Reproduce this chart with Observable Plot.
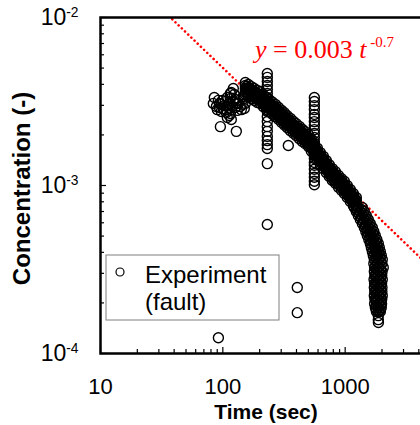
<!DOCTYPE html>
<html><head><meta charset="utf-8">
<script src="https://cdn.jsdelivr.net/npm/d3@7"></script>
<script src="https://cdn.jsdelivr.net/npm/@observablehq/plot@0.6"></script>
<style>
html,body{margin:0;padding:0;overflow:hidden;background:#fff;width:420px;height:425px}
#chart{position:relative;width:420px;height:425px;overflow:hidden}
#chart svg{max-width:none !important;width:470px !important;height:425px !important;display:block}
</style></head><body><div id="chart"></div>
<script>
// ---- data ----
const earlyTime = [83.6, 85.2, 88.5, 90.2, 91.9, 93.7, 93.7, 95.5, 97.2, 97.2, 99.0, 101, 102.8, 104.8, 106.8, 106.8, 108.8, 108.8, 110.9, 113, 113, 113, 115.1, 115.1, 115.1, 117.3, 117.3, 119.6, 121.8, 121.8, 124.2, 126.5, 126.5, 128.9, 128.9, 131.3, 133.9, 136.5, 139, 141.6, 144.3, 147, 147, 149.8, 152.7];
const earlyConc = [3.08e-3, 3.34e-3, 2.95e-3, 2.83e-3, 3.21e-3, 3.08e-3, 2.91e-3, 2.24e-3, 3.04e-3, 2.76e-3, 3.21e-3, 2.87e-3, 2.99e-3, 3.16e-3, 2.72e-3, 2.83e-3, 2.54e-3, 3.34e-3, 3.04e-3, 2.61e-3, 2.87e-3, 3.08e-3, 3.29e-3, 3.53e-3, 2.68e-3, 3.58e-3, 2.47e-3, 2.95e-3, 3.78e-3, 3.16e-3, 3.48e-3, 3.25e-3, 2.91e-3, 3.08e-3, 2.10e-3, 2.80e-3, 3.08e-3, 3.21e-3, 2.95e-3, 2.83e-3, 3.04e-3, 3.39e-3, 3.29e-3, 2.87e-3, 3.08e-3];

const bandTime = [152.7, 161.6, 171.0, 180.9, 191.4, 202.5, 214.3, 226.7, 239.9, 253.8, 268.6, 284.2, 300.7, 318.2, 336.6, 356.2, 376.9, 398.8, 421.9, 446.4, 472.4, 499.8, 528.8, 559.6, 592.1, 626.5, 662.9, 701.4, 742.2, 785.3, 830.9, 879.2, 930.3, 984.3, 1041, 1102, 1166, 1234];
const bandHigh = [4.10e-3, 3.99e-3, 3.88e-3, 3.78e-3, 3.68e-3, 3.63e-3, 3.46e-3, 3.35e-3, 3.24e-3, 3.14e-3, 3.04e-3, 2.92e-3, 2.81e-3, 2.71e-3, 2.60e-3, 2.51e-3, 2.41e-3, 2.33e-3, 2.25e-3, 2.16e-3, 2.09e-3, 2.01e-3, 1.89e-3, 1.78e-3, 1.67e-3, 1.57e-3, 1.49e-3, 1.41e-3, 1.33e-3, 1.26e-3, 1.21e-3, 1.15e-3, 1.10e-3, 1.06e-3, 1.00e-3, 9.47e-4, 8.96e-4, 8.48e-4];
const bandUpper = [3.94e-3, 3.83e-3, 3.73e-3, 3.63e-3, 3.53e-3, 3.48e-3, 3.32e-3, 3.22e-3, 3.12e-3, 3.01e-3, 2.92e-3, 2.80e-3, 2.70e-3, 2.59e-3, 2.50e-3, 2.41e-3, 2.31e-3, 2.24e-3, 2.16e-3, 2.07e-3, 2.00e-3, 1.93e-3, 1.81e-3, 1.71e-3, 1.60e-3, 1.51e-3, 1.43e-3, 1.35e-3, 1.28e-3, 1.21e-3, 1.16e-3, 1.10e-3, 1.06e-3, 1.01e-3, 9.60e-4, 9.09e-4, 8.61e-4, 8.14e-4];
const bandMid  = [3.78e-3, 3.68e-3, 3.58e-3, 3.48e-3, 3.39e-3, 3.34e-3, 3.19e-3, 3.09e-3, 2.99e-3, 2.89e-3, 2.80e-3, 2.69e-3, 2.59e-3, 2.49e-3, 2.40e-3, 2.31e-3, 2.22e-3, 2.15e-3, 2.07e-3, 1.99e-3, 1.92e-3, 1.85e-3, 1.74e-3, 1.64e-3, 1.54e-3, 1.45e-3, 1.37e-3, 1.30e-3, 1.23e-3, 1.16e-3, 1.11e-3, 1.06e-3, 1.02e-3, 9.73e-4, 9.21e-4, 8.72e-4, 8.26e-4, 7.81e-4];
const bandLower = [3.63e-3, 3.53e-3, 3.44e-3, 3.34e-3, 3.25e-3, 3.21e-3, 3.06e-3, 2.97e-3, 2.87e-3, 2.77e-3, 2.69e-3, 2.58e-3, 2.49e-3, 2.39e-3, 2.30e-3, 2.22e-3, 2.13e-3, 2.06e-3, 1.99e-3, 1.91e-3, 1.84e-3, 1.78e-3, 1.67e-3, 1.57e-3, 1.48e-3, 1.39e-3, 1.32e-3, 1.25e-3, 1.18e-3, 1.11e-3, 1.07e-3, 1.02e-3, 9.79e-4, 9.34e-4, 8.84e-4, 8.37e-4, 7.93e-4, 7.50e-4];
const bandLow  = [3.48e-3, 3.39e-3, 3.29e-3, 3.21e-3, 3.12e-3, 3.08e-3, 2.94e-3, 2.84e-3, 2.75e-3, 2.66e-3, 2.57e-3, 2.48e-3, 2.38e-3, 2.29e-3, 2.21e-3, 2.12e-3, 2.05e-3, 1.98e-3, 1.90e-3, 1.83e-3, 1.77e-3, 1.71e-3, 1.60e-3, 1.51e-3, 1.42e-3, 1.33e-3, 1.26e-3, 1.19e-3, 1.13e-3, 1.07e-3, 1.03e-3, 9.78e-4, 9.37e-4, 8.96e-4, 8.48e-4, 8.03e-4, 7.60e-4, 7.20e-4];

const band2Time = [157.1, 166.2, 175.9, 186.1, 196.9, 208.3, 220.4, 233.2, 246.8, 261.1, 276.3, 292.3, 309.3, 327.3, 346.3, 366.4, 387.7, 410.2, 434.0, 459.2, 485.9, 514.1, 544.0, 575.6, 609.1, 644.5, 681.9, 721.5, 763.4, 807.8, 854.7, 904.4, 956.9, 1012, 1071, 1134, 1200];
const band2High = [3.89e-3, 3.78e-3, 3.68e-3, 3.58e-3, 3.50e-3, 3.40e-3, 3.27e-3, 3.17e-3, 3.06e-3, 2.96e-3, 2.86e-3, 2.75e-3, 2.65e-3, 2.54e-3, 2.45e-3, 2.35e-3, 2.27e-3, 2.20e-3, 2.12e-3, 2.03e-3, 1.96e-3, 1.87e-3, 1.76e-3, 1.66e-3, 1.55e-3, 1.47e-3, 1.39e-3, 1.31e-3, 1.24e-3, 1.18e-3, 1.13e-3, 1.08e-3, 1.04e-3, 9.87e-4, 9.34e-4, 8.85e-4, 8.37e-4];
const band2Mid  = [3.73e-3, 3.63e-3, 3.53e-3, 3.43e-3, 3.36e-3, 3.26e-3, 3.14e-3, 3.04e-3, 2.94e-3, 2.84e-3, 2.74e-3, 2.64e-3, 2.54e-3, 2.44e-3, 2.35e-3, 2.26e-3, 2.18e-3, 2.11e-3, 2.03e-3, 1.95e-3, 1.88e-3, 1.79e-3, 1.69e-3, 1.59e-3, 1.49e-3, 1.41e-3, 1.33e-3, 1.26e-3, 1.19e-3, 1.13e-3, 1.08e-3, 1.04e-3, 9.96e-4, 9.47e-4, 8.96e-4, 8.49e-4, 8.03e-4];
const band2Low  = [3.58e-3, 3.48e-3, 3.39e-3, 3.30e-3, 3.23e-3, 3.13e-3, 3.01e-3, 2.92e-3, 2.82e-3, 2.73e-3, 2.63e-3, 2.53e-3, 2.44e-3, 2.34e-3, 2.26e-3, 2.17e-3, 2.09e-3, 2.03e-3, 1.95e-3, 1.87e-3, 1.80e-3, 1.72e-3, 1.62e-3, 1.53e-3, 1.43e-3, 1.35e-3, 1.28e-3, 1.21e-3, 1.14e-3, 1.08e-3, 1.04e-3, 9.98e-4, 9.56e-4, 9.09e-4, 8.60e-4, 8.15e-4, 7.71e-4];

const tailConc  = [7.40e-4, 7.00e-4, 6.63e-4, 6.27e-4, 5.94e-4, 5.62e-4, 5.32e-4, 5.04e-4, 4.77e-4, 4.52e-4, 4.27e-4, 4.05e-4, 3.83e-4, 3.63e-4, 3.43e-4, 3.25e-4, 3.08e-4, 2.91e-4, 2.76e-4, 2.61e-4, 2.47e-4, 2.34e-4, 2.21e-4, 2.10e-4, 1.98e-4, 1.88e-4, 1.78e-4];
const tailEarly = [1188, 1233, 1281, 1330, 1381, 1434, 1475, 1517, 1560, 1605, 1636, 1667, 1698, 1731, 1715, 1740, 1731, 1748, 1722, 1740, 1731, 1745, 1731, 1750, 1740, 1765, 1800];
const tailMid   = [1281, 1330, 1381, 1434, 1489, 1546, 1590, 1636, 1682, 1731, 1763, 1797, 1831, 1866, 1850, 1870, 1880, 1862, 1875, 1858, 1870, 1866, 1880, 1860, 1875, 1866, 1870];
const tailLate  = [1381, 1434, 1489, 1546, 1605, 1667, 1715, 1763, 1814, 1866, 1901, 1937, 1974, 2011, 1995, 2049, 2005, 1990, 2011, 1985, 2000, 1995, 2011, 1990, 1985, 1974, 1940];

const tail2Conc  = [7.20e-4, 6.81e-4, 6.45e-4, 6.10e-4, 5.78e-4, 5.47e-4, 5.18e-4, 4.90e-4, 4.64e-4, 4.39e-4, 4.16e-4, 3.94e-4, 3.73e-4, 3.53e-4, 3.34e-4, 3.16e-4, 2.99e-4, 2.83e-4, 2.68e-4, 2.54e-4, 2.40e-4, 2.27e-4, 2.15e-4, 2.04e-4, 1.93e-4, 1.83e-4];
const tail2Early = [1255, 1303, 1353, 1405, 1459, 1508, 1551, 1595, 1640, 1680, 1712, 1744, 1777, 1787, 1788, 1803, 1799, 1796, 1794, 1792, 1796, 1801, 1798, 1795, 1798, 1796];
const tail2Late  = [1357, 1409, 1463, 1519, 1578, 1631, 1677, 1725, 1774, 1817, 1851, 1887, 1922, 1932, 1934, 1950, 1946, 1943, 1941, 1939, 1943, 1948, 1945, 1942, 1945, 1943];

const spikeATime = 231;
const spikeAConc = [4.64e-3, 4.40e-3, 4.16e-3, 3.94e-3, 3.73e-3, 3.53e-3, 3.34e-3, 3.16e-3, 2.95e-3, 2.76e-3, 2.57e-3, 2.40e-3, 2.24e-3, 2.10e-3, 1.96e-3, 1.85e-3, 1.75e-3, 1.66e-3, 1.35e-3, 5.86e-4];
const spikeBTime = 560;
const spikeBConc = [3.34e-3, 3.16e-3, 2.99e-3, 2.83e-3, 2.65e-3, 2.54e-3, 2.40e-3, 2.28e-3, 2.15e-3, 2.04e-3, 1.93e-3, 1.83e-3, 1.73e-3, 1.64e-3, 1.53e-3, 1.45e-3, 1.37e-3, 1.32e-3, 1.25e-3, 1.18e-3, 1.12e-3, 1.06e-3, 1.01e-3];

const strayTime = [92, 343, 406, 406, 1866, 1866, 1870];
const strayConc = [1.24e-4, 1.73e-3, 2.47e-4, 1.75e-4, 1.68e-4, 1.59e-4, 1.53e-4];

// fitted power law as drawn (red dotted)
const fitCoef = 0.126;
const fitExp = -0.7;
const fitTime = [20, 10000];
const equationParts = ["y", " = 0.003 ", "t", " -0.7"];

// axes
const xMajor = [10, 100, 1000, 10000];
const xLabelTicks = [10, 100, 1000];
const xMinor = [20, 30, 40, 50, 60, 70, 80, 90, 200, 300, 400, 500, 600, 700, 800, 900, 2000, 3000, 4000, 5000, 6000, 7000, 8000, 9000];
const yMajor = [1e-4, 1e-3, 1e-2];
const yMinor = [2e-4, 3e-4, 4e-4, 5e-4, 6e-4, 7e-4, 8e-4, 9e-4, 2e-3, 3e-3, 4e-3, 5e-3, 6e-3, 7e-3, 8e-3, 9e-3];
const yTickLabels = [["10", "-4"], ["10", "-3"], ["10", "-2"]];
const xTitle = "Time (sec)";
const yTitle = "Concentration (-)";
const legendLines = ["Experiment", "(fault)"];

// ---- build table ----
const points = [];
earlyTime.forEach((t, i) => points.push({t, c: earlyConc[i]}));
bandTime.forEach((t, i) => {
  [bandHigh, bandUpper, bandMid, bandLower, bandLow].forEach(arr => points.push({t, c: arr[i]}));
});
band2Time.forEach((t, i) => {
  [band2High, band2Mid, band2Low].forEach(arr => points.push({t, c: arr[i]}));
});
tailConc.forEach((c, i) => {
  points.push({t: tailEarly[i], c});
  points.push({t: tailMid[i], c});
  points.push({t: tailLate[i], c});
});
tail2Conc.forEach((c, i) => {
  points.push({t: tail2Early[i], c});
  points.push({t: tail2Late[i], c});
});
spikeAConc.forEach(c => points.push({t: spikeATime, c}));
spikeBConc.forEach(c => points.push({t: spikeBTime, c}));
strayTime.forEach((t, i) => points.push({t, c: strayConc[i]}));

const fitData = fitTime.map(t => ({t, c: fitCoef * Math.pow(t, fitExp)}));

const sans = "'Liberation Sans', Arial, Helvetica, sans-serif";
const serif = "'Liberation Serif', 'Times New Roman', serif";

const chart = Plot.plot({
  width: 470, height: 425,
  marginLeft: 100, marginRight: 3, marginTop: 17, marginBottom: 72,
  x: {type: "log", domain: [10, 10000]},
  y: {type: "log", domain: [1e-4, 1e-2]},
  style: {fontFamily: sans, background: "white", color: "black", maxWidth: "none"},
  marks: [
    Plot.line(fitData, {x: "t", y: "c", stroke: "#ff0000", strokeWidth: 2.6, strokeDasharray: "0.01 4.4", strokeLinecap: "round", clip: true}),
    Plot.dot(points, {x: "t", y: "c", r: 5, stroke: "#000", strokeWidth: 1.4, fill: "none"}),
    Plot.axisX(xMinor, {anchor: "bottom", tickSize: -4, fill: "none", label: null, strokeWidth: 1.2}),
    Plot.axisX(xMajor, {anchor: "bottom", tickSize: -6, fill: "none", label: null, strokeWidth: 1.2}),
    Plot.axisX(xLabelTicks, {anchor: "bottom", tickSize: 0, tickPadding: 25, stroke: "none", label: null, fontSize: 22, tickFormat: d => String(d)}),
    Plot.axisY(yMinor, {anchor: "left", tickSize: -4, fill: "none", label: null, strokeWidth: 1.2}),
    Plot.axisY(yMajor, {anchor: "left", tickSize: -6, fill: "none", label: null, strokeWidth: 1.2}),
    Plot.axisY(yMajor, {anchor: "left", tickSize: 0, tickPadding: 22, stroke: "none", label: null, fontSize: 23,
      tickFormat: d => yTickLabels[yMajor.indexOf(d)].join("^")}),
    Plot.frame({stroke: "black", strokeWidth: 2.5}),
    Plot.text([xTitle], {text: d => d, frameAnchor: "bottom", textAnchor: "middle", dx: -18, dy: 59, lineAnchor: "middle", fontSize: 21, fontWeight: "bold"}),
    Plot.text([yTitle], {text: d => d, frameAnchor: "left", textAnchor: "middle", dx: -78, dy: 3, rotate: -90, lineAnchor: "middle", fontSize: 24, fontWeight: "bold"})
  ]
});
document.getElementById("chart").appendChild(chart);

const svg = d3.select(chart);
// superscript exponents on y tick labels
svg.selectAll('g[aria-label="y-axis tick label"] text').each(function () {
  const parts = this.textContent.split("^");
  const t = d3.select(this);
  t.text(parts[0]);
  t.append("tspan").attr("dy", "-0.55em").attr("font-size", "0.6em").text(parts[1]);
});

// equation
const eq = svg.append("text")
  .attr("x", 255).attr("y", 58).attr("text-anchor", "start")
  .attr("fill", "#ff0000").attr("font-family", serif).attr("font-size", 26);
eq.append("tspan").attr("font-style", "italic").text(equationParts[0]);
eq.append("tspan").text(equationParts[1]);
eq.append("tspan").attr("font-style", "italic").text(equationParts[2]);
eq.append("tspan").attr("dy", -11).attr("font-size", 15).text(equationParts[3]);

// legend
const lg = svg.append("g");
lg.append("rect").attr("x", 106).attr("y", 255).attr("width", 173).attr("height", 65)
  .attr("fill", "white").attr("stroke", "#7f7f7f").attr("stroke-width", 1);
lg.append("circle").attr("cx", 120).attr("cy", 272).attr("r", 4)
  .attr("fill", "none").attr("stroke", "black").attr("stroke-width", 1.2);
legendLines.forEach((s, i) => {
  lg.append("text").attr("x", 145).attr("y", 283 + i * 27).attr("text-anchor", "start")
    .attr("font-family", sans).attr("font-size", 24).attr("fill", "black").text(s);
});
</script>
</body></html>
